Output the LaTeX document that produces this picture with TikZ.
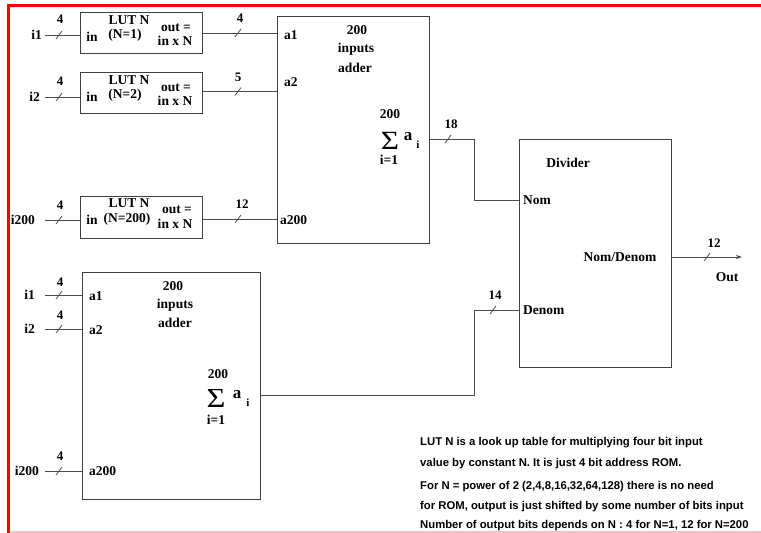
\documentclass[tikz,border=0pt]{standalone}
\usepackage{fontspec}
\usepackage{graphicx}
\setmainfont{Liberation Serif}
\newfontfamily\notefont{Liberation Sans}
\usetikzlibrary{arrows.meta}
\begin{document}
\begin{tikzpicture}[x=1pt,y=-1pt,
  wire/.style={draw=black!70, line width=0.8pt},
  box/.style={draw=black!75, line width=0.9pt, rectangle, inner sep=0pt},
  lbl/.style={font=\bfseries\fontsize{13.5}{14}\selectfont, inner sep=0pt},
  num/.style={font=\bfseries\fontsize{13}{14}\selectfont, inner sep=0pt},
  sml/.style={font=\bfseries\fontsize{11}{12}\selectfont, inner sep=0pt},
  sig/.style={inner sep=0pt, font=\fontsize{25}{25}\selectfont},
  note/.style={font=\notefont\bfseries\fontsize{11.3}{12}\selectfont, inner sep=0pt, anchor=base west},
  pics/busmark/.style={code={\draw[wire] (-3,4) -- (3,-4);}}]
\useasboundingbox (0,0) rectangle (761,533);
% frame
\draw[red, line width=3pt] (8,5) -- (761,5);
\draw[red, line width=3pt] (8,3.5) -- (8,533);
\draw[red!25, line width=2pt] (9.5,531.5) -- (761,531.5);

% ---------- LUT boxes ----------
\node[box, minimum width=122pt, minimum height=41pt] (lut1) at (141,32.5) {};
\node[box, minimum width=122pt, minimum height=41pt] (lut2) at (141,92.5) {};
\node[box, minimum width=122pt, minimum height=42pt] (lut3) at (141,217) {};

\node[lbl] (l1a) at (129,20) {LUT N};
\node[lbl] (l1b) at (125,35) {(N=1)};
\node[lbl] (l1c) at (92,37) {in};
\node[lbl] (l1d) at (176,28) {out =};
\node[lbl] (l1e) at (175,41) {in x N};

\node[lbl] (l2a) at (129,80) {LUT N};
\node[lbl] (l2b) at (125,95) {(N=2)};
\node[lbl] (l2c) at (92,97) {in};
\node[lbl] (l2d) at (176,88) {out =};
\node[lbl] (l2e) at (175,101) {in x N};

\node[lbl] (l3a) at (129,203) {LUT N};
\node[lbl] (l3b) at (127,219.5) {(N=200)};
\node[lbl] (l3c) at (92,220) {in};
\node[lbl] (l3d) at (177,210) {out =};
\node[lbl] (l3e) at (175,224) {in x N};

% inputs to LUTs
\node[lbl, anchor=east] (in1) at (42,35) {i1};
\node[lbl, anchor=east] (in2) at (40,97) {i2};
\node[lbl, anchor=east] (in3) at (35,220) {i200};
\coordinate (c1) at (45,35);
\coordinate (c2) at (45,97);
\coordinate (c3) at (45,220);
\draw[wire] (c1) -- (lut1.west |- c1);
\draw[wire] (c2) -- (lut2.west |- c2);
\draw[wire] (c3) -- (lut3.west |- c3);
\pic at (59,35) {busmark};
\pic at (59,97) {busmark};
\pic at (59,220) {busmark};
\node[num] (w1) at (60,19) {4};
\node[num] (w2) at (60,81) {4};
\node[num] (w3) at (60,205) {4};

% ---------- adder 1 ----------
\node[box, minimum width=152pt, minimum height=227pt] (add1) at (353,129.5) {};
\coordinate (d1) at (202,33);
\coordinate (d2) at (202,91.5);
\coordinate (d3) at (202,219);
\draw[wire] (d1) -- (add1.west |- d1);
\draw[wire] (d2) -- (add1.west |- d2);
\draw[wire] (d3) -- (add1.west |- d3);
\pic at (238,33) {busmark};
\pic at (238,91.5) {busmark};
\pic at (238,219) {busmark};
\node[num] (x1) at (240,18) {4};
\node[num] (x2) at (238,77) {5};
\node[num] (x3) at (242,204) {12};
\node[lbl, anchor=west] (a11) at (284,35) {a1};
\node[lbl, anchor=west] (a12) at (284,82) {a2};
\node[lbl, anchor=west] (a13) at (280,220) {a200};
\node[lbl] (h11) at (357,30) {200};
\node[lbl] (h12) at (356,49) {inputs};
\node[lbl] (h13) at (355,68) {adder};
\node[lbl] (s1t) at (390,114) {200};
\node[sig] (s1s) at (390,141) {\scalebox{1.25}[1.05]{Σ}};
\node[inner sep=0pt, font=\bfseries\fontsize{17}{18}\selectfont] (s1a) at (408,137) {a};
\node[sml] (s1i) at (418,145) {i};
\node[lbl] (s1b) at (389,160) {i=1};

% ---------- adder 2 ----------
\node[box, minimum width=178pt, minimum height=227pt] (add2) at (171,385.5) {};
\node[lbl, anchor=east] (j1) at (35,295) {i1};
\node[lbl, anchor=east] (j2) at (35,329) {i2};
\node[lbl, anchor=east] (j3) at (39,471) {i200};
\coordinate (e1) at (45,295);
\coordinate (e2) at (45,329);
\coordinate (e3) at (45,471);
\draw[wire] (e1) -- (add2.west |- e1);
\draw[wire] (e2) -- (add2.west |- e2);
\draw[wire] (e3) -- (add2.west |- e3);
\pic at (59,295) {busmark};
\pic at (59,329) {busmark};
\pic at (59,471) {busmark};
\node[num] (y1) at (60,282) {4};
\node[num] (y2) at (60,315) {4};
\node[num] (y3) at (60,456) {4};
\node[lbl, anchor=west] (a21) at (89,296) {a1};
\node[lbl, anchor=west] (a22) at (89,330) {a2};
\node[lbl, anchor=west] (a23) at (89,471) {a200};
\node[lbl] (h21) at (173,286) {200};
\node[lbl] (h22) at (175,305) {inputs};
\node[lbl] (h23) at (175,323) {adder};
\node[lbl] (s2t) at (218,374) {200};
\node[sig] (s2s) at (216,398) {\scalebox{1.3}[1.1]{Σ}};
\node[inner sep=0pt, font=\bfseries\fontsize{17}{18}\selectfont] (s2a) at (237,395) {a};
\node[sml] (s2i) at (248,403) {i};
\node[lbl] (s2b) at (216,420) {i=1};

% ---------- divider ----------
\node[box, minimum width=152pt, minimum height=228pt] (div) at (595,253) {};
\node[lbl] (dv) at (568,163) {Divider};
\node[lbl, anchor=west] (nom) at (523,200) {Nom};
\node[lbl, anchor=west] (den) at (523,310) {Denom};
\node[lbl] (nd) at (620,257) {Nom/Denom};

\coordinate (k1) at (474,139);
\coordinate (k2) at (474,395);
\draw[wire] (add1.east |- k1) -- (k1) -- (k1 |- nom) -- (div.west |- nom);
\draw[wire] (add2.east |- k2) -- (k2) -- (k2 |- den) -- (div.west |- den);
\pic at (448,139) {busmark};
\pic at (493,310) {busmark};
\node[num] (z1) at (451,124) {18};
\node[num] (z2) at (495,295) {14};

\coordinate (outend) at (742,257);
\draw[wire, -{Stealth[length=6pt,width=4pt]}] (div.east |- outend) -- (outend);
\pic at (707,257) {busmark};
\node[num] (z3) at (714,243) {12};
\node[lbl] (outl) at (727,277) {Out};

% ---------- note ----------
\node[note] (n1) at (420,445) {LUT N is a look up table for multiplying four bit input};
\node[note] (n2) at (420,466) {value by constant N. It is just 4 bit address ROM.};
\node[note] (n3) at (420,489) {For N = power of 2 (2,4,8,16,32,64,128) there is no need};
\node[note] (n4) at (420,509) {for ROM, output is just shifted by some number of bits input};
\node[note] (n5) at (420,528) {Number of output bits depends on N : 4 for N=1, 12 for N=200};
\end{tikzpicture}
\end{document}
